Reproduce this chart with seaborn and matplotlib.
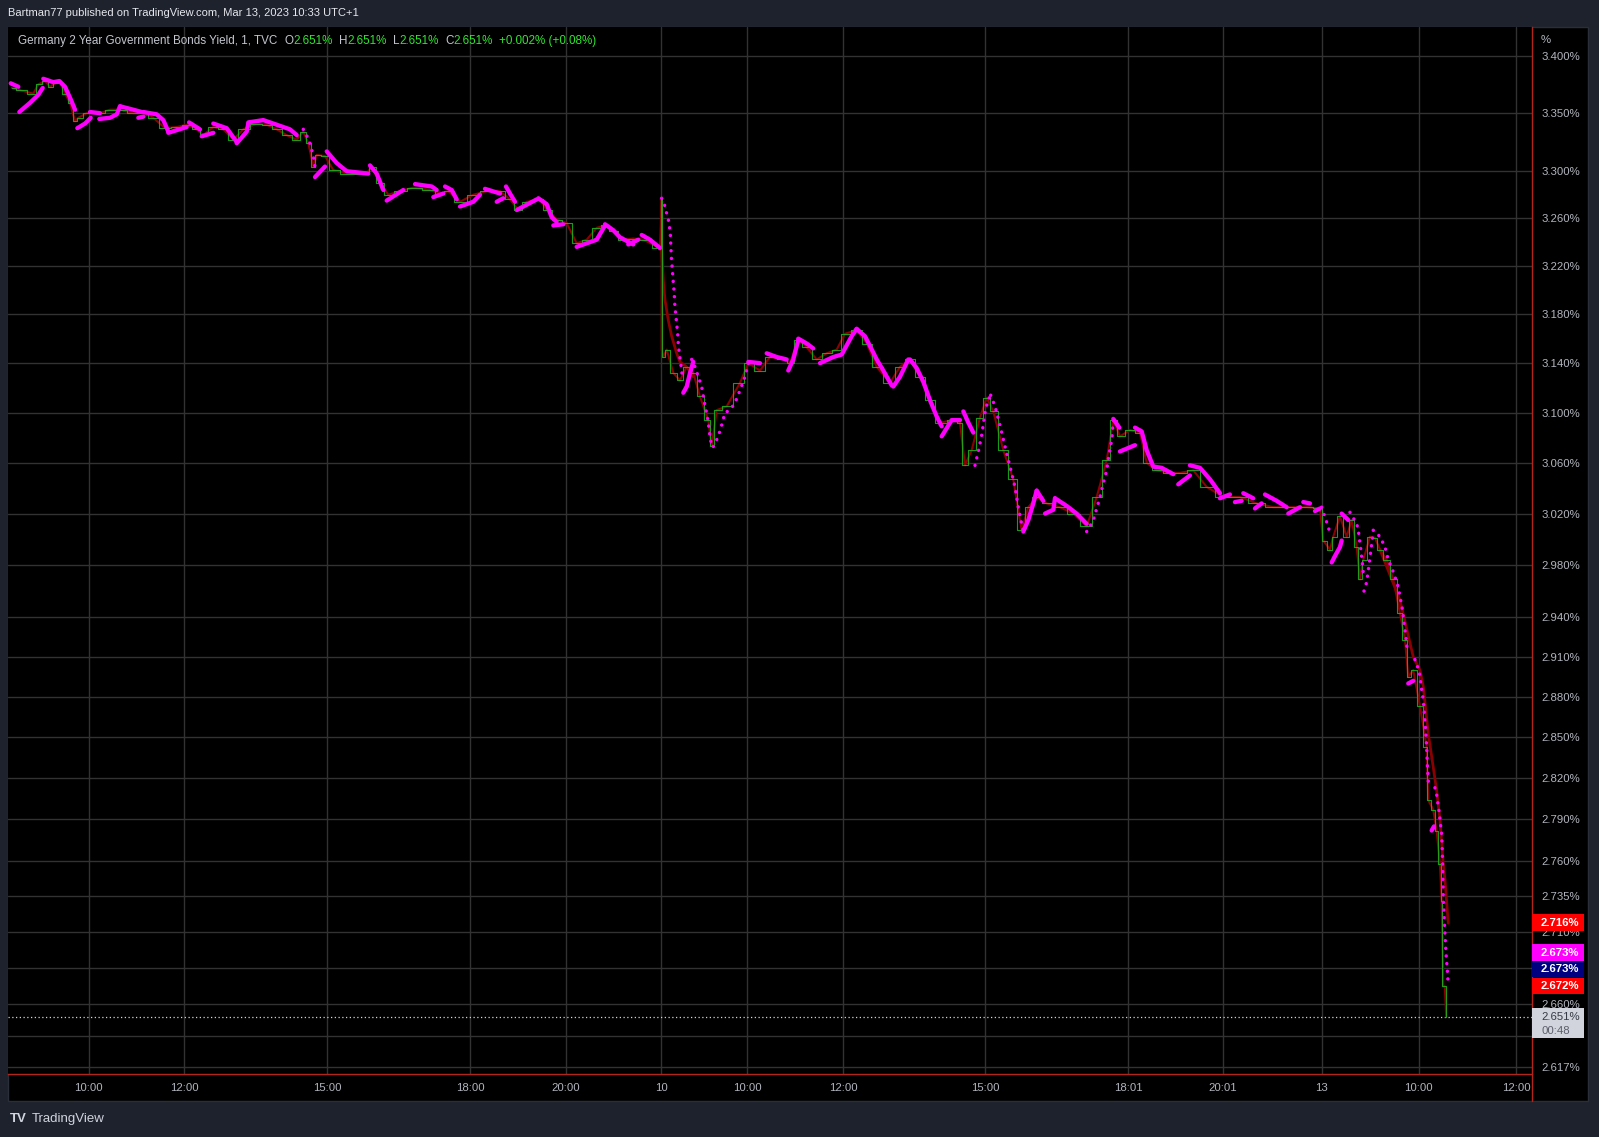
# ============================================================
# Germany 2Y yield, 1-minute chart (TradingView style replica)
# ============================================================

import numpy as np
import pandas as pd
import matplotlib
matplotlib.use('Agg')
import matplotlib.pyplot as plt
import seaborn as sns
from matplotlib.patches import Rectangle
from matplotlib.lines import Line2D
from matplotlib.ticker import FixedLocator, FixedFormatter, NullLocator
from matplotlib.transforms import Bbox, TransformedBbox

# ----- 1. Data (x = trading hours since Mar 9 10:00, y = yield %) -----
price_t = [-1.614, -1.440, -1.161, -1.057, -0.916, -0.811, -0.706, -0.602, -0.497, -0.392,
           -0.287, -0.218, -0.042, 0.237, 0.447, 0.656, 0.935, 1.145, 1.354, 1.600,
           1.845, 2.054, 2.264, 2.402, 2.612, 2.822, 3.031, 3.241, 3.522, 3.732,
           3.941, 4.151, 4.361, 4.499, 4.604, 4.709, 4.780, 4.954, 5.128, 5.409,
           5.828, 5.933, 6.107, 6.281, 6.526, 6.805, 7.155, 7.365, 7.539, 7.784,
           8.063, 8.344, 8.623, 8.832, 9.006, 9.182, 9.461, 9.602, 9.811, 10.021,
           10.230, 10.440, 10.650, 10.824, 10.998, 11.207, 11.417, 11.627, 11.977, 12.012,
           12.012, 12.046, 12.117, 12.256, 12.396, 12.537, 12.675, 12.815, 12.989, 13.061,
           13.165, 13.375, 13.654, 13.828, 14.073, 14.283, 14.562, 14.702, 14.876, 15.052,
           15.262, 15.471, 15.681, 15.855, 16.100, 16.310, 16.520, 16.799, 17.008, 17.218,
           17.427, 17.637, 17.847, 18.126, 18.266, 18.371, 18.511, 18.685, 18.826, 18.964,
           19.174, 19.383, 19.559, 19.698, 19.874, 20.083, 20.362, 20.641, 20.922, 21.132,
           21.341, 21.480, 21.620, 21.830, 22.040, 22.180, 22.390, 22.668, 22.878, 23.157,
           23.438, 23.786, 24.136, 24.486, 24.834, 25.184, 25.534, 25.813, 25.882, 26.023,
           26.092, 26.232, 26.373, 26.478, 26.583, 26.652, 26.721, 26.861, 26.966, 27.071,
           27.211, 27.350, 27.490, 27.595, 27.664, 27.769, 27.909, 28.050, 28.083, 28.188,
           28.259, 28.328, 28.364, 28.398, 28.430, 28.460]
price_y = [3.372, 3.370, 3.367, 3.375, 3.378, 3.373, 3.376, 3.377, 3.367, 3.359,
           3.343, 3.346, 3.350, 3.350, 3.353, 3.353, 3.350, 3.350, 3.346, 3.337,
           3.338, 3.340, 3.336, 3.331, 3.338, 3.336, 3.327, 3.336, 3.341, 3.340,
           3.336, 3.331, 3.327, 3.334, 3.324, 3.304, 3.314, 3.313, 3.301, 3.298,
           3.298, 3.304, 3.290, 3.280, 3.283, 3.286, 3.284, 3.281, 3.283, 3.274,
           3.280, 3.283, 3.283, 3.276, 3.267, 3.274, 3.276, 3.267, 3.259, 3.256,
           3.239, 3.242, 3.252, 3.254, 3.249, 3.242, 3.243, 3.242, 3.235, 3.276,
           3.151, 3.145, 3.151, 3.132, 3.126, 3.137, 3.132, 3.113, 3.094, 3.073,
           3.102, 3.105, 3.124, 3.140, 3.134, 3.145, 3.143, 3.140, 3.159, 3.153,
           3.143, 3.148, 3.151, 3.164, 3.167, 3.156, 3.137, 3.124, 3.137, 3.143,
           3.129, 3.110, 3.092, 3.094, 3.092, 3.058, 3.070, 3.096, 3.112, 3.101,
           3.070, 3.047, 3.007, 3.025, 3.033, 3.028, 3.025, 3.020, 3.010, 3.033,
           3.062, 3.094, 3.081, 3.086, 3.084, 3.060, 3.054, 3.052, 3.052, 3.054,
           3.041, 3.033, 3.033, 3.028, 3.025, 3.025, 3.025, 3.024, 2.999, 2.992,
           3.002, 3.018, 3.002, 3.015, 2.994, 2.969, 2.984, 3.002, 3.001, 2.992,
           2.984, 2.969, 2.943, 2.923, 2.895, 2.900, 2.873, 2.843, 2.804, 2.797,
           2.782, 2.758, 2.732, 2.672, 2.672, 2.651]

# slow moving average, only where it leaves the price
ma_t = [11.767, 12.012, 12.046, 12.081, 12.151, 12.222, 12.327, 12.396, 12.537, 12.675, None,
        27.071, 27.490, 27.769, 27.909, 27.978, 28.083, 28.188, 28.259, 28.328, 28.398, 28.433, 28.503]
ma_y = [3.241, 3.233, 3.208, 3.192, 3.175, 3.162, 3.148, 3.141, 3.137, 3.129, None,
        2.992, 2.953, 2.910, 2.900, 2.888, 2.853, 2.828, 2.811, 2.790, 2.758, 2.747, 2.716]

# magenta indicator, dense stretches (None = new segment)
sar_t = [-1.635, -1.476, None, -1.455, -1.231, -1.057, -0.964, None,
         -0.952, -0.742, -0.616, -0.497, -0.377, -0.287, None, -0.239, -0.078, 0.042, None,
         0.027, 0.237, None, 0.222, 0.447, 0.587, 0.656, None, 0.656, 0.935, 1.111, None,
         1.040, 1.145, None, 1.145, 1.426, 1.564, 1.669, None, 1.669, 2.054, None,
         2.103, 2.333, None, 2.369, 2.612, None, 2.612, 2.893, 3.103, None,
         3.103, 3.312, 3.346, None, 3.346, 3.660, 3.941, 4.220, 4.361, None,
         4.744, 4.954, None, 4.990, 5.199, 5.409, 5.862, None, 5.897, 6.038, 6.176, None,
         6.247, 6.595, None, 6.841, 7.191, 7.295, None, 7.224, 7.434, None,
         7.470, 7.610, 7.715, None, 7.784, 8.063, 8.203, None, 8.308, 8.623, None,
         8.553, 8.692, None, 8.748, 8.832, 8.937, None, 8.973, 9.392, None,
         9.426, 9.602, 9.706, 9.811, None, 9.740, 9.950, None, 10.230, 10.650, 10.824, None,
         10.824, 10.998, 11.138, 11.417, None, 11.312, 11.522, None, 11.593, 11.767, 11.977, None,
         12.465, 12.537, 12.606, 12.675, None, 13.828, 14.073, None, 14.213, 14.423, 14.633, None,
         14.666, 14.771, 14.876, None, 14.876, 15.052, 15.190, None,
         15.331, 15.610, 15.786, 15.995, 16.100, None, 16.100, 16.274, 16.379, 16.520, 16.658, 16.834, None,
         16.868, 17.008, 17.182, None, 17.218, 17.358, 17.497, 17.637, 17.777, 17.882, None,
         17.882, 18.091, 18.266, None, 18.336, 18.441, 18.546, None,
         19.593, 19.698, 19.803, 19.874, None, 19.874, 20.012, None, 20.049, 20.223, 20.258, None,
         20.258, 20.503, 20.712, 20.922, None, 21.480, 21.606, None, 21.620, 21.935, None,
         21.935, 22.075, 22.180, 22.318, 22.494, 22.738, None, 22.842, 23.087, None,
         23.087, 23.297, 23.506, 23.716, None, 23.716, 23.925, None, 24.030, 24.171, None,
         24.205, 24.414, None, 24.450, 24.590, None, 24.660, 24.905, 25.115, None,
         25.149, 25.394, None, 25.463, 25.603, None, 25.708, 25.813, None,
         26.058, 26.127, 26.232, 26.268, None, 26.268, 26.407, None, 27.664, 27.769, None,
         28.154, 28.203]
sar_y = [3.376, 3.373, None, 3.351, 3.359, 3.366, 3.372, None,
         3.380, 3.377, 3.378, 3.373, 3.362, 3.353, None, 3.337, 3.341, 3.346, None,
         3.351, 3.350, None, 3.345, 3.346, 3.349, 3.356, None, 3.356, 3.353, 3.351, None,
         3.346, 3.347, None, 3.351, 3.349, 3.344, 3.334, None, 3.333, 3.338, None,
         3.342, 3.336, None, 3.330, 3.333, None, 3.341, 3.337, 3.325, None,
         3.324, 3.334, 3.341, None, 3.342, 3.344, 3.340, 3.336, 3.331, None,
         3.295, 3.304, None, 3.317, 3.307, 3.300, 3.298, None, 3.305, 3.298, 3.284, None,
         3.275, 3.284, None, 3.289, 3.287, 3.284, None, 3.278, 3.281, None,
         3.287, 3.284, 3.276, None, 3.270, 3.274, 3.280, None, 3.285, 3.281, None,
         3.274, 3.277, None, 3.287, 3.281, 3.274, None, 3.267, 3.276, None,
         3.277, 3.272, 3.261, 3.257, None, 3.254, 3.255, None, 3.236, 3.242, 3.254, None,
         3.255, 3.250, 3.244, 3.238, None, 3.238, 3.242, None, 3.246, 3.242, 3.235, None,
         3.116, 3.121, 3.132, 3.141, None, 3.141, 3.140, None, 3.148, 3.145, 3.143, None,
         3.134, 3.143, 3.159, None, 3.160, 3.156, 3.152, None,
         3.140, 3.145, 3.147, 3.162, 3.168, None, 3.168, 3.162, 3.154, 3.143, 3.134, 3.122, None,
         3.121, 3.129, 3.143, None, 3.143, 3.136, 3.125, 3.110, 3.097, 3.089, None,
         3.081, 3.094, 3.094, None, 3.101, 3.092, 3.084, None,
         3.006, 3.015, 3.028, 3.038, None, 3.038, 3.030, None, 3.020, 3.023, 3.032, None,
         3.032, 3.026, 3.020, 3.012, None, 3.095, 3.088, None, 3.069, 3.074, None,
         3.088, 3.085, 3.070, 3.057, 3.056, 3.051, None, 3.043, 3.050, None,
         3.058, 3.056, 3.047, 3.036, None, 3.032, 3.035, None, 3.029, 3.030, None,
         3.036, 3.032, None, 3.024, 3.028, None, 3.035, 3.030, 3.025, None,
         3.020, 3.025, None, 3.029, 3.028, None, 3.022, 3.024, None,
         2.982, 2.987, 2.994, 2.999, None, 3.020, 3.015, None, 2.890, 2.892, None,
         2.782, 2.785]

# magenta indicator, stretches where single dots are visible
sar_dot_t = [4.499, 4.604, 4.660, 4.709, 4.744, None,
             12.012, 12.046, 12.081, 12.117, 12.151, 12.172, 12.193, 12.201, 12.214, 12.235, 12.256,
             12.277, 12.285, 12.306, 12.327, 12.348, 12.360, 12.381, 12.410, 12.431, 12.452, None,
             12.641, 12.710, 12.780, 12.851, 12.899, 12.941, 12.989, 13.024, 13.061, None,
             13.094, 13.199, 13.270, 13.339, 13.444, 13.549, 13.654, 13.759, 13.828, None,
             18.581, 18.650, 18.721, 18.790, 18.853, 18.910, None,
             18.910, 19.000, 19.090, 19.210, 19.314, 19.419, 19.488, 19.559, 19.593, None,
             20.922, 20.991, 21.061, 21.132, 21.201, 21.270, 21.341, 21.389, 21.446, 21.480, None,
             25.848, 25.917, 25.966, 26.023, None,
             26.442, 26.583, 26.616, 26.652, 26.687, 26.721, None,
             26.736, 26.792, 26.826, 26.861, 26.903, 26.930, None,
             26.930, 27.071, 27.176, 27.245, 27.316, 27.385, 27.454, 27.504, 27.546, 27.574, 27.616, 27.643, None,
             27.804, 27.894, 27.945, 27.978, 28.029, 28.050, 28.062, 28.092, None,
             28.223, 28.259, 28.292, 28.313, 28.364, 28.377, 28.387, 28.398, 28.419, 28.440, 28.461,
             28.482, 28.492, 28.503]
sar_dot_y = [3.336, 3.328, 3.321, 3.313, 3.304, None,
             3.277, 3.274, 3.270, 3.264, 3.259, 3.254, 3.247, 3.239, 3.228, 3.217, 3.206,
             3.197, 3.189, 3.180, 3.172, 3.164, 3.156, 3.148, 3.140, 3.134, 3.126, None,
             3.143, 3.137, 3.129, 3.121, 3.110, 3.102, 3.092, 3.081, 3.073, None,
             3.073, 3.081, 3.090, 3.100, 3.102, 3.108, 3.118, 3.129, 3.140, None,
             3.058, 3.069, 3.082, 3.100, 3.110, 3.114, None,
             3.114, 3.105, 3.092, 3.073, 3.057, 3.041, 3.025, 3.012, 3.006, None,
             3.006, 3.010, 3.015, 3.024, 3.033, 3.044, 3.054, 3.066, 3.078, 3.094, None,
             3.025, 3.017, 3.012, 3.005, None,
             3.021, 3.012, 3.007, 2.997, 2.986, 2.974, None,
             2.960, 2.967, 2.976, 2.986, 2.998, 3.006, None,
             3.007, 3.002, 2.994, 2.984, 2.978, 2.971, 2.963, 2.953, 2.945, 2.935, 2.925, 2.915, None,
             2.908, 2.899, 2.885, 2.878, 2.855, 2.843, 2.831, 2.813, None,
             2.813, 2.808, 2.800, 2.795, 2.779, 2.768, 2.753, 2.733, 2.717, 2.704, 2.692,
             2.684, 2.678, 2.673]

ytick_vals = [3.400, 3.350, 3.300, 3.260, 3.220, 3.180, 3.140, 3.100, 3.060, 3.020, 2.980, 2.940,
              2.910, 2.880, 2.850, 2.820, 2.790, 2.760, 2.735, 2.710, 2.685, 2.660, 2.638, 2.617]
xtick_pos = [0, 2, 5, 8, 10, 12, 13.81, 15.82, 18.79, 21.79, 23.77, 25.85, 27.88, 29.93]
xtick_labels = ['10:00', '12:00', '15:00', '18:00', '20:00', '10', '10:00', '12:00',
                '15:00', '18:01', '20:01', '13', '10:00', '12:00']

ohlc = [2.651, 2.651, 2.651, 2.651]
change = '+0.002% (+0.08%)'
last_price = 2.651
countdown = '00:48'
tag_text = ['2.716%', '2.673%', '2.673%', '2.672%']
tag_colors = ['#ff0000', '#ff00ff', '#000080', '#ff0000']


def to_segments(ts, ys):
    rows, seg = [], 0
    for t, y in zip(ts, ys):
        if t is None:
            seg += 1
            continue
        rows.append((seg, t, y))
    return pd.DataFrame(rows, columns=['seg', 't', 'y'])


# ----- 2. Figure layout -----
sns.set_theme(style='dark')
plt.rcParams['font.family'] = ['Liberation Sans', 'DejaVu Sans']

W, H = 1599, 1137
BG = '#1e222d'
TXT = '#b2b5be'
RED_AX = '#b3241a'
L, R, T, B = 8, 1531.7, 27, 1074.3
FS = 8.2

fig = plt.figure(figsize=(W / 100, H / 100), dpi=100, facecolor=BG)
fig.add_artist(Rectangle((L / W, 1 - 1101 / H), (1588 - L) / W, (1101 - T) / H,
                         transform=fig.transFigure, facecolor='black',
                         edgecolor='#2a2e39', lw=1, zorder=-1))
ax = fig.add_axes([L / W, 1 - B / H, (R - L) / W, (B - T) / H])
ax.set_facecolor('black')

# ----- 3. Series -----
sns.lineplot(x=price_t, y=price_y, ax=ax, sort=False, estimator=None,
             color='#8b0000', lw=1.5, zorder=3)
sns.lineplot(x=price_t, y=price_y, ax=ax, sort=False, estimator=None,
             color='#1cb81c', lw=0.8, drawstyle='steps-mid', alpha=0.85, zorder=4)
ma_df = to_segments(ma_t, ma_y)
sns.lineplot(data=ma_df, x='t', y='y', units='seg', estimator=None, sort=False,
             color='#8b0000', lw=2.0, ax=ax, legend=False, zorder=3)
sar_df = to_segments(sar_t, sar_y)
sns.lineplot(data=sar_df, x='t', y='y', units='seg', estimator=None, sort=False,
             color='#ff00ff', lw=3.1, solid_capstyle='round', ax=ax, legend=False, zorder=5)
dot_df = to_segments(sar_dot_t, sar_dot_y)
sns.lineplot(data=dot_df, x='t', y='y', units='seg', estimator=None, sort=False,
             color='#ff00ff', lw=2.5, linestyle=(0, (0.01, 2.2)), dash_capstyle='round',
             ax=ax, legend=False, zorder=5)

ax.axhline(last_price, color='#d1d4dc', lw=0.9, ls=(0, (1, 2)), zorder=2)

# ----- 4. Axes -----
ax.set_yscale('log')
ax.set_ylim(2.6118, 3.4256)
ax.set_xlim(-1.692, 30.252)
ax.yaxis.set_major_locator(FixedLocator(ytick_vals))
ax.yaxis.set_minor_locator(NullLocator())
ax.yaxis.set_major_formatter(FixedFormatter([f'{v:.3f}%' for v in ytick_vals]))
ax.yaxis.tick_right()
ax.set_xticks(xtick_pos)
ax.set_xticklabels(xtick_labels)
ax.set_xlabel('')
ax.set_ylabel('')
ax.tick_params(axis='y', length=0, pad=7, labelsize=FS, labelcolor=TXT)
ax.tick_params(axis='x', length=0, pad=6, labelsize=FS, labelcolor=TXT)
ax.grid(True, color='#323232', lw=1)
ax.set_axisbelow(True)
for s in ['left', 'top']:
    ax.spines[s].set_visible(False)
for s in ['bottom', 'right']:
    ax.spines[s].set_color(RED_AX)
    ax.spines[s].set_linewidth(1)

clip = TransformedBbox(Bbox([[0, -0.1], [1, 1]]), ax.transAxes)
for lab in ax.get_xticklabels():
    lab.set_clip_box(clip)
    lab.set_clip_on(True)
# the 2.638% label sits under the last-price tag
ax.get_yticklabels()[ytick_vals.index(2.638)].set_visible(False)

fig.add_artist(Line2D([R / W, R / W], [1 - 1101 / H, 1 - B / H], transform=fig.transFigure,
                      color=RED_AX, lw=1))

# ----- 5. Header / legend texts -----
fig.text(8 / W, 1 - 13.5 / H, 'Bartman77 published on TradingView.com, Mar 13, 2023 10:33 UTC+1',
         color='#e6e8ee', fontsize=8.0, va='center', ha='left')

renderer = fig.canvas.get_renderer()
GREEN = '#2ee62e'
pieces = [('Germany 2 Year Government Bonds Yield, 1, TVC', '#c3c6ce', 8),
          ('O', '#c3c6ce', 0), (f'{ohlc[0]:.3f}%', GREEN, 6),
          ('H', '#c3c6ce', 0), (f'{ohlc[1]:.3f}%', GREEN, 6),
          ('L', '#c3c6ce', 0), (f'{ohlc[2]:.3f}%', GREEN, 6),
          ('C', '#c3c6ce', 0), (f'{ohlc[3]:.3f}%', GREEN, 6),
          (change, GREEN, 0)]
x = 17.5
for txt, col, gap in pieces:
    t = fig.text(x / W, 1 - 41 / H, txt, color=col, fontsize=8.4, va='center', ha='left')
    x = t.get_window_extent(renderer=renderer).x1 + gap

fig.text(1541 / W, 1 - 40 / H, '%', color=TXT, fontsize=FS, va='center', ha='left')

fig.text(10 / W, 1 - 1119 / H, 'TV', color='#d1d4dc', fontsize=9.5, fontweight='bold',
         va='center', ha='left')
fig.text(32 / W, 1 - 1119 / H, 'TradingView', color='#d1d4dc', fontsize=9.5,
         va='center', ha='left')

# ----- 6. Price scale tags -----
tag_tops = [914.3, 944.3, 961.0, 978.0]
for txt, col, top in zip(tag_text, tag_colors, tag_tops):
    fig.add_artist(Rectangle((R / W, 1 - (top + 16.4) / H), 52 / W, 16.4 / H,
                             transform=fig.transFigure, facecolor=col, edgecolor='none', zorder=5))
    fig.text(1541 / W, 1 - (top + 8.4) / H, txt, color='white', fontsize=FS, fontweight='bold',
             va='center', ha='left', zorder=6)

fig.add_artist(Rectangle((R / W, 1 - 1038.3 / H), 52 / W, 30 / H, transform=fig.transFigure,
                         facecolor='#d1d4dc', edgecolor='none', zorder=5))
fig.text(1541 / W, 1 - 1016.7 / H, f'{last_price:.3f}%', color='#363a45', fontsize=FS,
         va='center', ha='left', zorder=6)
fig.text(1541 / W, 1 - 1030.5 / H, countdown, color='#5d606b', fontsize=FS,
         va='center', ha='left', zorder=6)

plt.savefig('out.png', dpi=100, facecolor=BG)
print(">> Saved: out.png")
